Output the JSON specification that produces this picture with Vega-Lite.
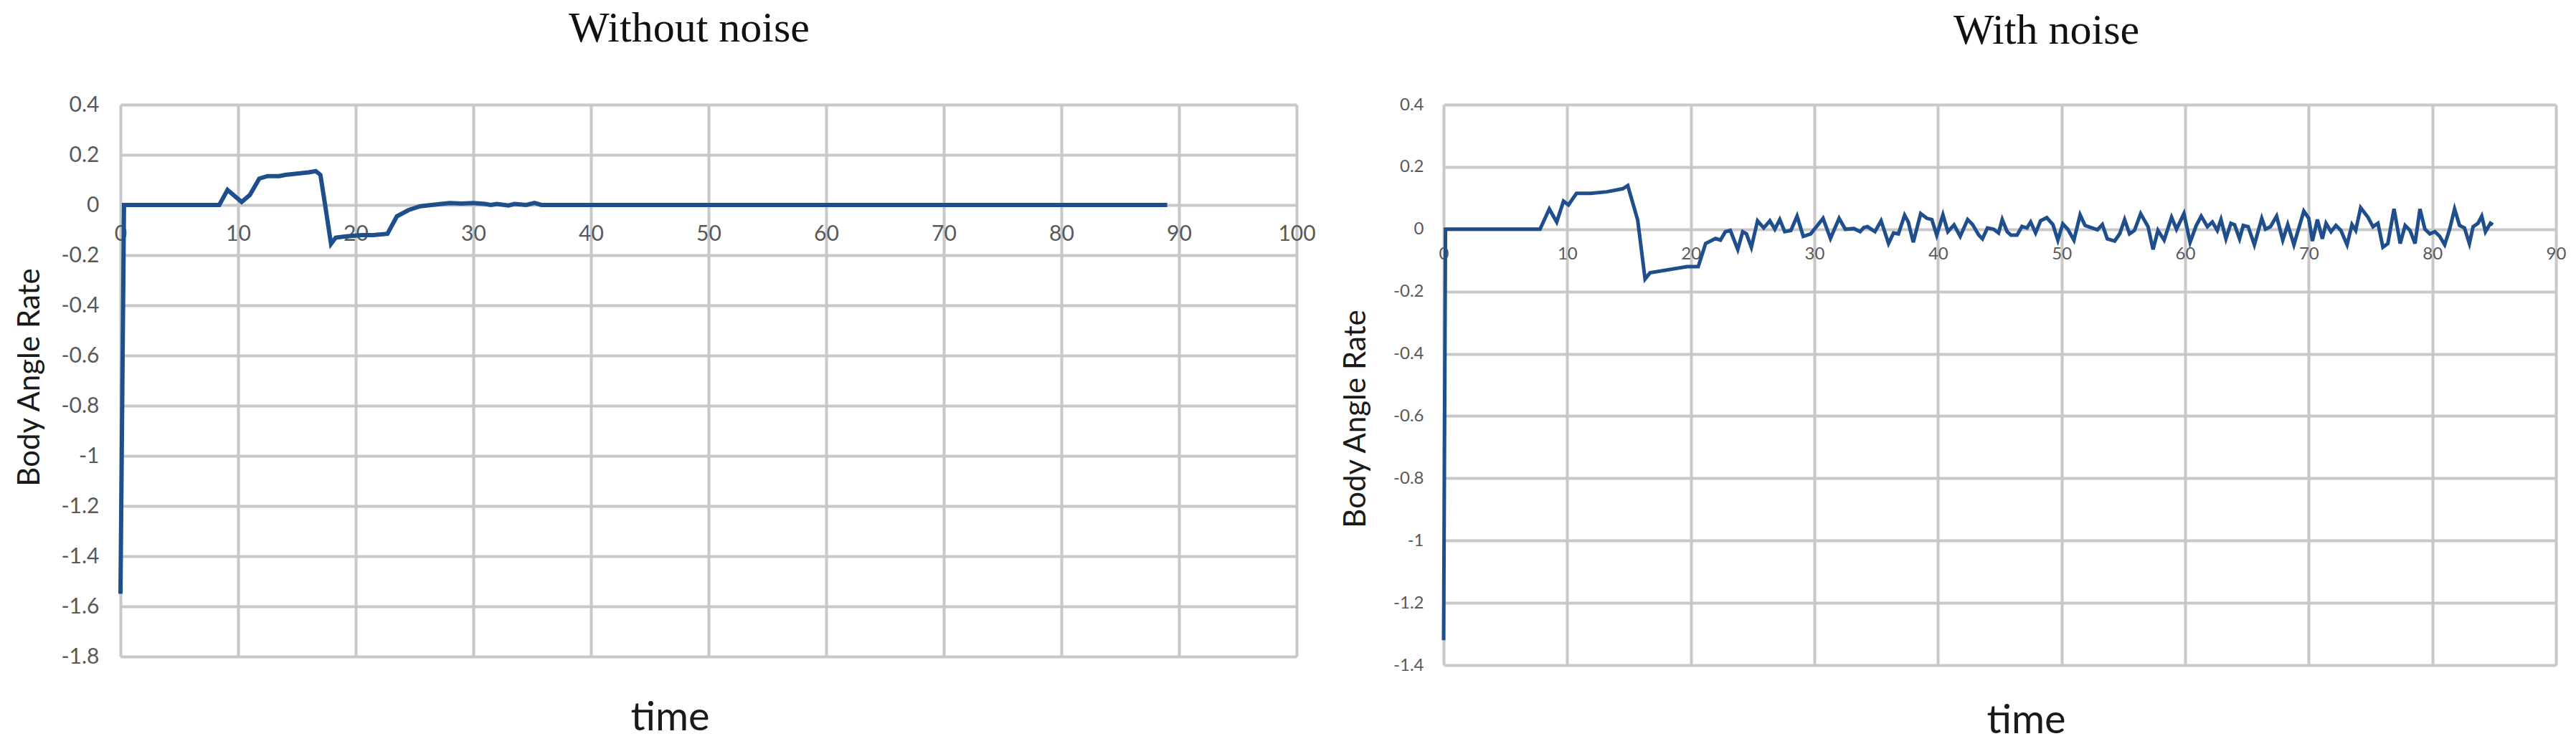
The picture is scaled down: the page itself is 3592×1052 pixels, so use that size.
{
  "$schema": "https://vega.github.io/schema/vega-lite/v6.json",
  "background": "white",
  "padding": {"left": 20, "top": 10, "right": 0, "bottom": 0},
  "spacing": 34,
  "datasets": {
    "nonoise": [
      {"t": 0, "v": -1.55}, {"t": 0.3, "v": 0}, {"t": 8.4, "v": 0}, {"t": 9.1, "v": 0.06},
      {"t": 10.3, "v": 0.012}, {"t": 11.0, "v": 0.04}, {"t": 11.8, "v": 0.105}, {"t": 12.5, "v": 0.115},
      {"t": 13.5, "v": 0.115}, {"t": 14.0, "v": 0.12}, {"t": 15.0, "v": 0.125}, {"t": 16.0, "v": 0.13},
      {"t": 16.6, "v": 0.135}, {"t": 17.0, "v": 0.12}, {"t": 17.4, "v": 0.0}, {"t": 17.9, "v": -0.155},
      {"t": 18.3, "v": -0.13}, {"t": 19.2, "v": -0.125}, {"t": 20.5, "v": -0.12}, {"t": 21.5, "v": -0.12},
      {"t": 22.7, "v": -0.115}, {"t": 23.5, "v": -0.045}, {"t": 24.5, "v": -0.02}, {"t": 25.5, "v": -0.005},
      {"t": 27.0, "v": 0.003}, {"t": 28.0, "v": 0.008}, {"t": 29.0, "v": 0.006}, {"t": 30.0, "v": 0.008},
      {"t": 31.0, "v": 0.004}, {"t": 31.5, "v": 0.0}, {"t": 32.0, "v": 0.004}, {"t": 33.0, "v": -0.002},
      {"t": 33.5, "v": 0.004}, {"t": 34.5, "v": 0.0}, {"t": 35.2, "v": 0.008}, {"t": 35.8, "v": 0.0},
      {"t": 40, "v": 0.0}, {"t": 89, "v": 0.0}
    ],
    "noise": [
      {"t": 0, "v": -1.32}, {"t": 0.15, "v": 0}, {"t": 7.8, "v": 0}, {"t": 8.55, "v": 0.065},
      {"t": 9.15, "v": 0.023}, {"t": 9.7, "v": 0.09}, {"t": 10.1, "v": 0.078}, {"t": 10.75, "v": 0.115},
      {"t": 11.9, "v": 0.115}, {"t": 13.2, "v": 0.12}, {"t": 14.5, "v": 0.13}, {"t": 14.9, "v": 0.14},
      {"t": 15.7, "v": 0.03}, {"t": 16.3, "v": -0.16}, {"t": 16.7, "v": -0.14}, {"t": 19.7, "v": -0.12},
      {"t": 20.6, "v": -0.12}, {"t": 21.2, "v": -0.046}, {"t": 22.0, "v": -0.03}, {"t": 22.4, "v": -0.035},
      {"t": 22.8, "v": -0.008}, {"t": 23.2, "v": -0.004}, {"t": 23.8, "v": -0.065}, {"t": 24.2, "v": -0.008},
      {"t": 24.5, "v": -0.015}, {"t": 24.9, "v": -0.058}, {"t": 25.4, "v": 0.027}, {"t": 25.9, "v": 0.004},
      {"t": 26.4, "v": 0.027}, {"t": 26.8, "v": 0.0}, {"t": 27.2, "v": 0.031}, {"t": 27.6, "v": -0.008},
      {"t": 28.1, "v": -0.004}, {"t": 28.6, "v": 0.042}, {"t": 29.1, "v": -0.023}, {"t": 29.7, "v": -0.015},
      {"t": 30.7, "v": 0.035}, {"t": 31.3, "v": -0.03}, {"t": 32.0, "v": 0.035}, {"t": 32.5, "v": 0.0},
      {"t": 33.2, "v": 0.002}, {"t": 33.7, "v": -0.008}, {"t": 34.0, "v": 0.005}, {"t": 34.3, "v": 0.008},
      {"t": 34.9, "v": -0.008}, {"t": 35.4, "v": 0.027}, {"t": 36.0, "v": -0.046}, {"t": 36.4, "v": -0.012},
      {"t": 36.8, "v": -0.015}, {"t": 37.3, "v": 0.045}, {"t": 37.6, "v": 0.023}, {"t": 38.0, "v": -0.042},
      {"t": 38.6, "v": 0.05}, {"t": 39.1, "v": 0.035}, {"t": 39.5, "v": 0.031}, {"t": 39.9, "v": -0.019},
      {"t": 40.4, "v": 0.046}, {"t": 40.8, "v": -0.008}, {"t": 41.3, "v": 0.014}, {"t": 41.8, "v": -0.023},
      {"t": 42.4, "v": 0.031}, {"t": 42.8, "v": 0.015}, {"t": 43.3, "v": -0.019}, {"t": 43.6, "v": -0.031},
      {"t": 44.0, "v": 0.004}, {"t": 44.5, "v": 0.0}, {"t": 44.9, "v": -0.012}, {"t": 45.2, "v": 0.031},
      {"t": 45.6, "v": -0.008}, {"t": 45.9, "v": -0.019}, {"t": 46.4, "v": -0.019}, {"t": 46.8, "v": 0.009},
      {"t": 47.2, "v": 0.004}, {"t": 47.5, "v": 0.023}, {"t": 47.9, "v": -0.012}, {"t": 48.3, "v": 0.027},
      {"t": 48.8, "v": 0.037}, {"t": 49.3, "v": 0.015}, {"t": 49.7, "v": -0.035}, {"t": 50.1, "v": 0.017},
      {"t": 50.5, "v": 0.0}, {"t": 51.0, "v": -0.035}, {"t": 51.5, "v": 0.046}, {"t": 51.9, "v": 0.012},
      {"t": 52.2, "v": 0.008}, {"t": 52.9, "v": -0.002}, {"t": 53.3, "v": 0.015}, {"t": 53.7, "v": -0.031},
      {"t": 54.3, "v": -0.038}, {"t": 54.7, "v": -0.015}, {"t": 55.1, "v": 0.031}, {"t": 55.5, "v": -0.015},
      {"t": 55.9, "v": -0.004}, {"t": 56.4, "v": 0.05}, {"t": 57.0, "v": 0.008}, {"t": 57.4, "v": -0.065},
      {"t": 57.8, "v": -0.004}, {"t": 58.3, "v": -0.035}, {"t": 58.9, "v": 0.038}, {"t": 59.3, "v": 0.0},
      {"t": 59.9, "v": 0.05}, {"t": 60.4, "v": -0.042}, {"t": 60.9, "v": 0.012}, {"t": 61.3, "v": 0.042},
      {"t": 61.8, "v": 0.008}, {"t": 62.2, "v": 0.023}, {"t": 62.6, "v": -0.004}, {"t": 62.9, "v": 0.031},
      {"t": 63.3, "v": -0.031}, {"t": 63.7, "v": 0.019}, {"t": 64.0, "v": 0.014}, {"t": 64.4, "v": -0.031},
      {"t": 64.7, "v": 0.012}, {"t": 65.1, "v": 0.008}, {"t": 65.6, "v": -0.05}, {"t": 66.2, "v": 0.035},
      {"t": 66.5, "v": 0.0}, {"t": 66.9, "v": 0.008}, {"t": 67.4, "v": 0.042}, {"t": 67.9, "v": -0.035},
      {"t": 68.3, "v": 0.015}, {"t": 68.8, "v": -0.05}, {"t": 69.6, "v": 0.058}, {"t": 70.0, "v": 0.035},
      {"t": 70.3, "v": -0.038}, {"t": 70.7, "v": 0.031}, {"t": 71.1, "v": -0.031}, {"t": 71.4, "v": 0.019},
      {"t": 71.8, "v": -0.008}, {"t": 72.2, "v": 0.012}, {"t": 72.6, "v": -0.004}, {"t": 73.1, "v": -0.05},
      {"t": 73.5, "v": 0.015}, {"t": 73.8, "v": -0.004}, {"t": 74.2, "v": 0.069}, {"t": 74.8, "v": 0.038},
      {"t": 75.2, "v": 0.008}, {"t": 75.6, "v": 0.019}, {"t": 76.0, "v": -0.058}, {"t": 76.4, "v": -0.046},
      {"t": 76.9, "v": 0.065}, {"t": 77.4, "v": -0.046}, {"t": 77.8, "v": 0.012}, {"t": 78.2, "v": -0.004},
      {"t": 78.6, "v": -0.046}, {"t": 79.0, "v": 0.065}, {"t": 79.4, "v": 0.0}, {"t": 79.8, "v": -0.015},
      {"t": 80.2, "v": -0.008}, {"t": 80.6, "v": -0.023}, {"t": 81.0, "v": -0.05}, {"t": 81.4, "v": 0.0},
      {"t": 81.8, "v": 0.065}, {"t": 82.2, "v": 0.012}, {"t": 82.6, "v": 0.004}, {"t": 83.0, "v": -0.046},
      {"t": 83.3, "v": 0.008}, {"t": 83.7, "v": 0.019}, {"t": 84.0, "v": 0.042}, {"t": 84.3, "v": -0.008},
      {"t": 84.7, "v": 0.019}, {"t": 84.9, "v": 0.014}
    ]
  },
  "hconcat": [
    {
      "width": 1640,
      "height": 770,
      "title": {"text": "Without noise", "dx": -27, "offset": 60},
      "data": {"name": "nonoise"},
      "mark": {"type": "line", "color": "#1f4e8c", "strokeWidth": 6},
      "encoding": {
        "x": {
          "field": "t", "type": "quantitative",
          "scale": {"domain": [0, 100], "nice": false, "zero": false},
          "axis": {
            "values": [0, 10, 20, 30, 40, 50, 60, 70, 80, 90, 100],
            "offset": -630,
            "labelFontSize": 30, "labelPadding": 25,
            "title": "time", "titleFontSize": 56, "titleX": 766, "titleY": 732,
            "titleBaseline": "alphabetic", "titleAlign": "center"
          }
        },
        "y": {
          "field": "v", "type": "quantitative",
          "scale": {"domain": [-1.8, 0.4], "nice": false, "zero": false},
          "axis": {
            "values": [0.4, 0.2, 0, -0.2, -0.4, -0.6, -0.8, -1, -1.2, -1.4, -1.6, -1.8],
            "labelFontSize": 30, "labelPadding": 30,
            "labelExpr": "datum.value < 0 ? '-' + format(-datum.value, '~g') : format(datum.value, '~g')",
            "title": "Body Angle Rate", "titleFontSize": 42, "titleX": -127, "titleY": 380,
            "titleBaseline": "middle", "titleAlign": "center"
          }
        }
      }
    },
    {
      "width": 1551,
      "height": 782,
      "title": {"text": "With noise", "dx": 65, "offset": 60},
      "data": {"name": "noise"},
      "mark": {"type": "line", "color": "#1f4e8c", "strokeWidth": 5},
      "encoding": {
        "x": {
          "field": "t", "type": "quantitative",
          "scale": {"domain": [0, 90], "nice": false, "zero": false},
          "axis": {
            "values": [0, 10, 20, 30, 40, 50, 60, 70, 80, 90],
            "offset": -608,
            "labelFontSize": 24, "labelPadding": 22,
            "title": "time", "titleFontSize": 56, "titleX": 812, "titleY": 702,
            "titleBaseline": "alphabetic", "titleAlign": "center"
          }
        },
        "y": {
          "field": "v", "type": "quantitative",
          "scale": {"domain": [-1.4, 0.4], "nice": false, "zero": false},
          "axis": {
            "values": [0.4, 0.2, 0, -0.2, -0.4, -0.6, -0.8, -1, -1.2, -1.4],
            "labelFontSize": 24, "labelPadding": 28,
            "labelExpr": "datum.value < 0 ? '-' + format(-datum.value, '~g') : format(datum.value, '~g')",
            "title": "Body Angle Rate", "titleFontSize": 42, "titleX": -123, "titleY": 438,
            "titleBaseline": "middle", "titleAlign": "center"
          }
        }
      }
    }
  ],
  "config": {
    "view": {"stroke": null},
    "axis": {
      "domain": false, "ticks": false, "tickSize": 0,
      "gridColor": "#c8c8c8", "gridWidth": 4,
      "labelFont": "Lato", "labelColor": "#595959",
      "titleFont": "Lato", "titleFontWeight": "normal", "titleColor": "#1a1a1a",
      "labelFlush": false, "labelOverlap": false
    },
    "title": {
      "font": "Liberation Serif", "fontSize": 60, "fontWeight": "normal",
      "color": "#111111", "anchor": "middle", "baseline": "alphabetic"
    }
  }
}
